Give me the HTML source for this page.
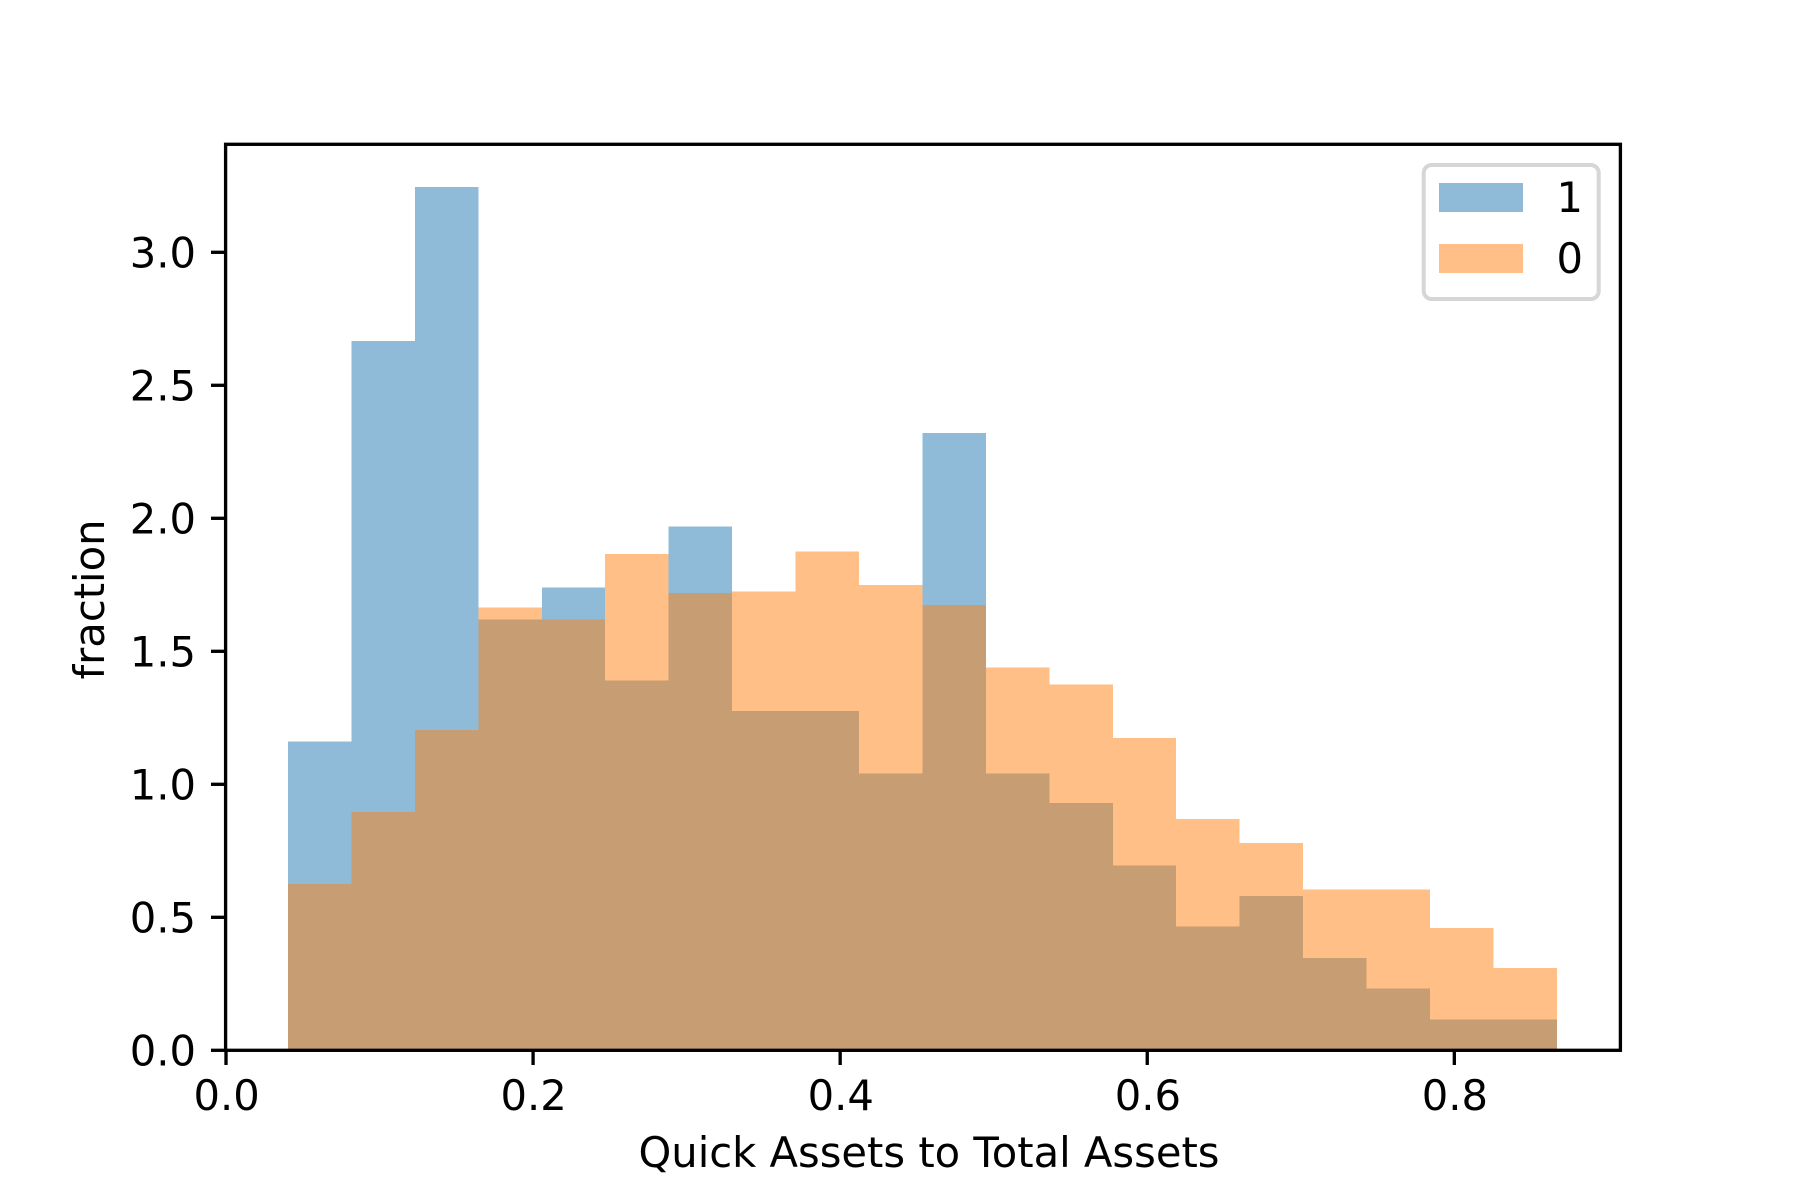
<!DOCTYPE html>
<html lang="en">
<head>
<meta charset="utf-8">
<title>Quick Assets to Total Assets histogram</title>
<style>
  html, body { margin: 0; padding: 0; background: #fff; }
  svg { display: block; }
  text { font-family: "DejaVu Sans", "Liberation Sans", sans-serif; font-size: 41.67px; fill: #000; }
</style>
</head>
<body>
<svg id="chart" xmlns="http://www.w3.org/2000/svg" width="1800" height="1200" viewBox="0 0 1800 1200">
  <rect x="0" y="0" width="1800" height="1200" fill="#ffffff"/>
  <g id="bars"></g>
  <g id="ticks"></g>
  <rect x="225.6" y="144.3" width="1394.8" height="906" fill="none" stroke="#000" stroke-width="3.33"/>
  <text x="929" y="1167" text-anchor="middle">Quick Assets to Total Assets</text>
  <text transform="translate(104 599.5) rotate(-90)" text-anchor="middle">fraction</text>
  <g>
    <rect x="1423.7" y="165" width="175" height="134" rx="8" ry="8" fill="#fff" fill-opacity="0.8" stroke="#d6d6d6" stroke-width="4"/>
    <rect x="1439" y="183" width="84" height="29" fill="#1f77b4" fill-opacity="0.5"/>
    <text x="1556.5" y="212">1</text>
    <rect x="1439" y="244" width="84" height="29" fill="#ff7f0e" fill-opacity="0.5"/>
    <text x="1556.5" y="273">0</text>
  </g>
</svg>
<script>
const binStart = 0.0404;
const binWidth = 0.04132;
const series1Values = [1.16, 2.667, 3.245, 1.62, 1.74, 1.39, 1.97, 1.275, 1.275, 1.04, 2.32, 1.04, 0.93, 0.695, 0.465, 0.58, 0.347, 0.232, 0.116, 0.116];
const series0Values = [0.625, 0.895, 1.205, 1.665, 1.62, 1.865, 1.72, 1.725, 1.875, 1.75, 1.675, 1.44, 1.375, 1.175, 0.87, 0.78, 0.605, 0.605, 0.46, 0.31];
const xTicks = [0, 0.2, 0.4, 0.6, 0.8];
const xTickLabels = ['0.0', '0.2', '0.4', '0.6', '0.8'];
const yTicks = [0, 0.5, 1, 1.5, 2, 2.5, 3];
const yTickLabels = ['0.0', '0.5', '1.0', '1.5', '2.0', '2.5', '3.0'];

const NS = 'http://www.w3.org/2000/svg';
const xScale = v => 226 + v * 1535.4;
const yScale = v => 1050.3 - v * 266;

const barsGroup = document.getElementById('bars');
const ticksGroup = document.getElementById('ticks');

function drawSeries(values, color, label) {
  values.forEach((value, i) => {
    const x0 = xScale(binStart + i * binWidth);
    const x1 = xScale(binStart + (i + 1) * binWidth);
    const el = document.createElementNS(NS, 'rect');
    
    
    el.setAttribute('x', x0);
    el.setAttribute('y', yScale(value));
    el.setAttribute('width', x1 - x0);
    el.setAttribute('height', yScale(0) - yScale(value));
    el.setAttribute('fill', color);
    el.setAttribute('fill-opacity', '0.5');
    el.setAttribute('shape-rendering', 'crispEdges');
    barsGroup.appendChild(el);
  });
}
drawSeries(series1Values, '#1f77b4', '1');
drawSeries(series0Values, '#ff7f0e', '0');

xTicks.forEach((tick, i) => {
  const px = xScale(tick);
  const line = document.createElementNS(NS, 'line');
  
  
  line.setAttribute('x1', px);
  line.setAttribute('x2', px);
  line.setAttribute('y1', 1050);
  line.setAttribute('y2', 1065);
  line.setAttribute('stroke', '#000');
  line.setAttribute('stroke-width', '3.33');
  ticksGroup.appendChild(line);
  const text = document.createElementNS(NS, 'text');
  
  
  text.setAttribute('x', px + 0.6);
  text.setAttribute('y', 1110);
  text.setAttribute('text-anchor', 'middle');
  text.textContent = xTickLabels[i];
  ticksGroup.appendChild(text);
});

yTicks.forEach((tick, i) => {
  const py = yScale(tick);
  const line = document.createElementNS(NS, 'line');
  
  
  line.setAttribute('x1', 211);
  line.setAttribute('x2', 226);
  line.setAttribute('y1', py);
  line.setAttribute('y2', py);
  line.setAttribute('stroke', '#000');
  line.setAttribute('stroke-width', '3.33');
  ticksGroup.appendChild(line);
  const text = document.createElementNS(NS, 'text');
  
  
  text.setAttribute('x', 196);
  text.setAttribute('y', py + 15);
  text.setAttribute('text-anchor', 'end');
  text.textContent = yTickLabels[i];
  ticksGroup.appendChild(text);
});
</script>
</body>
</html>
